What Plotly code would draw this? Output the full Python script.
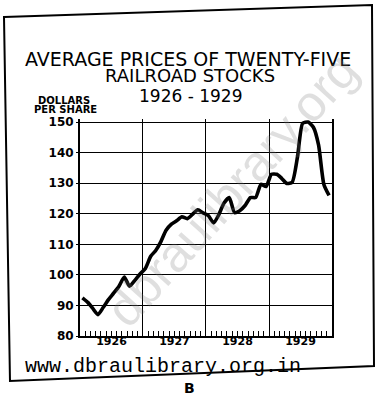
import plotly.graph_objects as go

# Monthly average price of twenty-five railroad stocks, dollars per share
months = [f"{y}-{m:02d}-15" for y in range(1926, 1930) for m in range(1, 13)]
prices = [
    # 1926
    92.5, 91.0, 89.1, 87.0, 89.3, 91.9, 94.0, 96.3, 99.3, 96.3, 98.2, 100.3,
    # 1927
    102.1, 106.1, 107.9, 110.9, 114.6, 116.6, 117.7, 119.0, 118.4, 119.8, 121.3, 120.3,
    # 1928
    119.4, 117.0, 119.6, 123.5, 125.3, 120.4, 121.0, 122.7, 125.3, 125.3, 129.6, 128.9,
    # 1929
    132.9, 132.9, 131.6, 129.9, 130.3, 138.6, 149.6, 150.0, 148.3, 142.5, 129.6, 126.0,
]
y_ticks = [80, 90, 100, 110, 120, 130, 140, 150]

W, H = 376, 398
L, R, T, B = 80, 44, 119, 62


def px(x):
    """Pixel column -> paper x."""
    return (x - L) / (W - L - R)


def py(y):
    """Pixel row -> paper y."""
    return (H - B - y) / (H - T - B)


fig = go.Figure()
fig.add_trace(go.Scatter(
    x=months, y=prices, mode="lines",
    line=dict(color="black", width=3.6, shape="spline", smoothing=0.6),
    hoverinfo="skip", showlegend=False,
))

fig.update_layout(
    width=W, height=H,
    margin=dict(l=L, r=R, t=T, b=B, pad=0),
    paper_bgcolor="white", plot_bgcolor="white",
    font=dict(family="DejaVu Sans", color="black"),
    showlegend=False,
)

fig.update_xaxes(
    range=["1926-01-01", "1930-01-01"],
    tick0="1926-01-01", dtick="M12",
    ticklabelmode="period", tickformat="%Y",
    tickfont=dict(size=11, weight="bold"),
    ticklabelstandoff=-6,
    ticks="", showgrid=True, gridcolor="black", gridwidth=1.4,
    showline=True, linecolor="black", linewidth=2, mirror=False,
    minor=dict(dtick="M1", tick0="1926-01-01", ticks="inside", ticklen=5,
               tickcolor="black", tickwidth=1.2, showgrid=False),
    zeroline=False,
)
fig.update_yaxes(
    range=[80, 151], tickvals=y_ticks,
    tickfont=dict(size=12, weight="bold"),
    ticks="outside", ticklen=2, tickcolor="black",
    showgrid=True, gridcolor="black", gridwidth=1.4,
    showline=True, linecolor="black", linewidth=2, mirror=True,
    zeroline=False,
)

# Hand-drawn frame around the figure
corners = [(4, 17), (372, 5), (374, 366), (10, 381)]
path = "M " + " L ".join(f"{px(x):.4f},{py(y):.4f}" for x, y in corners) + " Z"
fig.add_shape(type="path", path=path, xref="paper", yref="paper",
              line=dict(color="black", width=2))

annotations = [
    dict(text="AVERAGE PRICES OF TWENTY-FIVE", x=188, y=59, size=19),
    dict(text="RAILROAD STOCKS", x=190, y=75, size=18),
    dict(text="1926 - 1929", x=190, y=96, size=17),
]
for a in annotations:
    fig.add_annotation(text=a["text"], x=px(a["x"]), y=py(a["y"]),
                       xref="paper", yref="paper", showarrow=False, borderpad=0,
                       xanchor="center", yanchor="middle",
                       font=dict(family="DejaVu Sans", size=a["size"], color="black"))

fig.add_annotation(text="DOLLARS", x=px(64), y=py(100), xref="paper", yref="paper",
                   showarrow=False, borderpad=0, xanchor="center", yanchor="middle",
                   font=dict(family="DejaVu Sans", size=10, weight="bold", color="black"))
fig.add_annotation(text="PER SHARE", x=px(65), y=py(109.5), xref="paper", yref="paper",
                   showarrow=False, borderpad=0, xanchor="center", yanchor="middle",
                   font=dict(family="DejaVu Sans", size=10, weight="bold", color="black"))

# Library stamp
fig.add_annotation(text="dbraulibrary.org", x=px(232), y=py(190), xref="paper", yref="paper",
                   showarrow=False, textangle=-48, xanchor="center", yanchor="middle",
                   font=dict(family="Liberation Sans", size=50, color="rgba(120,120,120,0.24)"))
fig.add_annotation(text="www.dbraulibrary.org.in", x=px(23), y=py(366), xref="paper", yref="paper",
                   showarrow=False, xanchor="left", yanchor="middle",
                   font=dict(family="Liberation Mono", size=20, color="black"))
fig.add_annotation(text="B", x=px(189), y=py(388), xref="paper", yref="paper",
                   showarrow=False, borderpad=0, xanchor="center", yanchor="middle",
                   font=dict(family="DejaVu Sans", size=14, weight="bold", color="black"))

fig.write_html("out.html")
